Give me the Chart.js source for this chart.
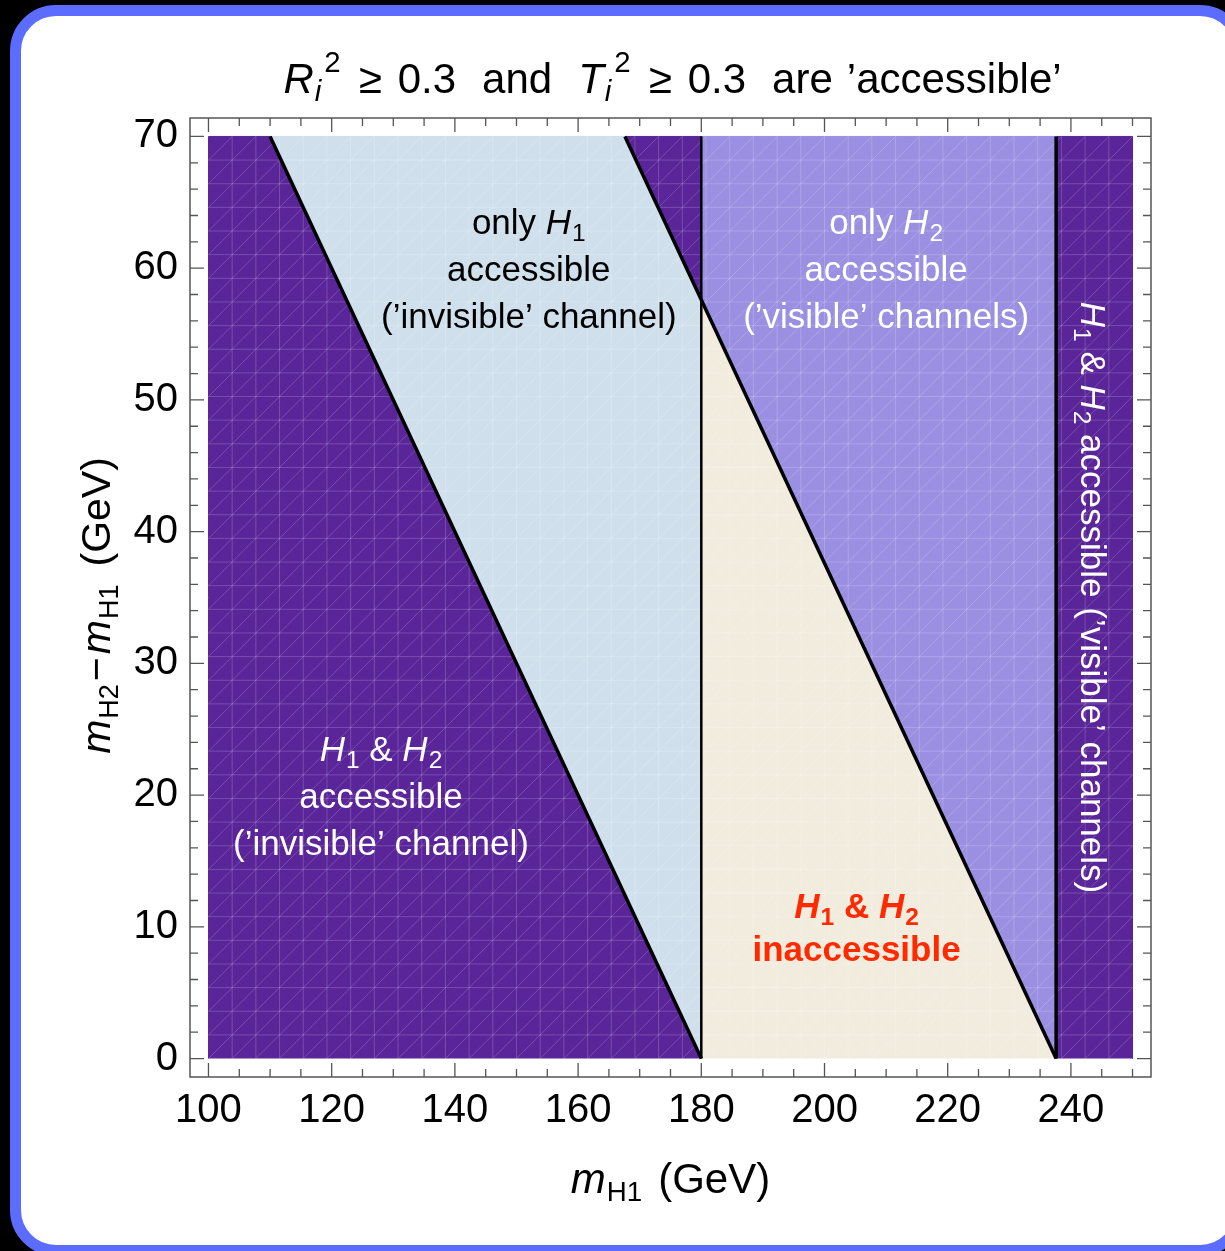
<!DOCTYPE html>
<html>
<head>
<meta charset="utf-8">
<script src="https://cdn.jsdelivr.net/npm/chart.js@4.4.1/dist/chart.umd.min.js"></script>
<style>
  html, body { margin: 0; padding: 0; background: #000; width: 1225px; height: 1251px; overflow: hidden; }
  #card { position: absolute; left: 10px; top: 5px; width: 1236px; height: 1251px; box-sizing: border-box;
          border: 11px solid #5b6cff; border-radius: 46px; background: #fff; }
  #wrap { position: absolute; left: 0; top: 0; width: 1225px; height: 1251px; }
</style>
</head>
<body>
<div id="card"></div>
<div id="wrap"><canvas id="c" width="1225" height="1251"></canvas></div>
<script>
// Axis ticks
const xTicks = [100, 120, 140, 160, 180, 200, 220, 240];
const yTicks = [0, 10, 20, 30, 40, 50, 60, 70];

// Regions in the (m_H1, m_H2 - m_H1) plane, as polygon vertices in GeV
const bothInvisibleRegion = [[100, 0], [100, 70], [110, 70], [180, 0]];
const onlyH1Region        = [[110, 70], [167.6, 70], [180, 57.6], [180, 0]];
const cornerRegion        = [[167.6, 70], [180, 70], [180, 57.6]];
const onlyH2Region        = [[180, 57.6], [180, 70], [237.6, 70], [237.6, 0]];
const inaccessibleRegion  = [[180, 0], [180, 57.6], [237.6, 0]];
const bothVisibleRegion   = [[237.6, 0], [237.6, 70], [250, 70], [250, 0]];

// Region boundaries
const edgeSumLow   = [[110, 70], [180, 0]];
const edgeSumHigh  = [[167.6, 70], [237.6, 0]];
const edgeMassLow  = [[180, 0], [180, 70]];
const edgeMassHigh = [[237.6, 0], [237.6, 70]];

const FONT = '"Liberation Sans", Arial, Helvetica, sans-serif';
const DARK = '#5a2599', BLUE = '#cfe0ec', LAVENDER = '#9b8fe2', BEIGE = '#f2ecde';

function toPoints(arr) { return arr.map(p => ({ x: p[0], y: p[1] })); }

function regionSet(arr, color) {
  return { data: toPoints(arr), showLine: true, fill: 'shape', backgroundColor: color,
           borderColor: color, borderWidth: 1, pointRadius: 0, tension: 0, order: 5 };
}
function edgeSet(arr, width) {
  return { data: toPoints(arr), showLine: true, fill: false, borderColor: '#000',
           borderWidth: width, pointRadius: 0, tension: 0, order: 1, boundary: true };
}

// Rich text: runs of [text, style, extraSpaceBefore]; style letters: i = italic, b = subscript, p = superscript
function runFont(style, size, bold, scr) {
  const it = style.includes('i') ? 'italic ' : '';
  const s = (style.includes('b') || style.includes('p')) ? size * scr : size;
  return `${it}${bold ? 'bold ' : ''}${s}px ${FONT}`;
}
function runsWidth(ctx, runs, size, bold, o) {
  let w = 0;
  for (const [t, s, g] of runs) { ctx.font = runFont(s, size, bold, o.scr); w += (g || 0) + ctx.measureText(t).width; }
  return w;
}
function drawRuns(ctx, runs, cx, baseY, size, bold, opt) {
  const o = Object.assign({ scr: 0.7, sub: 0.2, sup: 0.42 }, opt || {});
  let px = cx - runsWidth(ctx, runs, size, bold, o) / 2;
  for (const [t, s, g] of runs) {
    ctx.font = runFont(s, size, bold, o.scr);
    px += g || 0;
    const off = s.includes('b') ? size * o.sub : (s.includes('p') ? -size * o.sup : 0);
    ctx.fillText(t, px, baseY + off);
    px += ctx.measureText(t).width;
  }
}
function drawBlock(ctx, px, py, lines, opt) {
  ctx.save();
  ctx.translate(px, py);
  ctx.rotate(opt.rotate || 0);
  ctx.fillStyle = opt.color;
  ctx.textAlign = 'left';
  ctx.textBaseline = 'alphabetic';
  const n = lines.length;
  lines.forEach((line, k) => {
    const base = (k - (n - 1) / 2) * opt.gap + opt.size * 0.36;
    drawRuns(ctx, line, 0, base, opt.size, opt.bold);
  });
  ctx.restore();
}

const H1 = [['H', 'i'], ['1', 'b', 1]];
const H2 = [['H', 'i'], ['2', 'b', 1]];
const annotations = [
  { at: [152, 60], color: '#000', lines: [[['only ', ''], ...H1], [['accessible', '']], [['(\u2019invisible\u2019 channel)', '']]] },
  { at: [210, 60], color: '#fff', lines: [[['only ', ''], ...H2], [['accessible', '']], [['(\u2019visible\u2019 channels)', '']]] },
  { at: [128, 20], color: '#fff', lines: [[...H1, [' & ', ''], ...H2], [['accessible', '']], [['(\u2019invisible\u2019 channel)', '']]] },
  { at: [205.2, 10], color: '#ff2a00', bold: true, gap: 43, lines: [[...H1, [' & ', ''], ...H2], [['inaccessible', '']]] },
  { at: [243.7, 35], color: '#fff', rotate: Math.PI / 2,
    lines: [[...H1, [' & ', ''], ...H2, [' accessible (\u2019visible\u2019 channels)', '']]] }
];

function drawMesh(chart) {
  const { ctx, scales: { x, y } } = chart;
  const n = 39, dx = 150 / n, dy = 70 / n;
  ctx.save();
  ctx.strokeStyle = 'rgba(255,255,255,0.18)';
  ctx.lineWidth = 1;
  ctx.beginPath();
  for (let i = 1; i < n; i++) {
    const px = x.getPixelForValue(100 + i * dx);
    ctx.moveTo(px, y.getPixelForValue(0)); ctx.lineTo(px, y.getPixelForValue(70));
    const py = y.getPixelForValue(i * dy);
    ctx.moveTo(x.getPixelForValue(100), py); ctx.lineTo(x.getPixelForValue(250), py);
  }
  for (let i = 0; i < n; i++) {
    for (let j = 0; j < n; j++) {
      ctx.moveTo(x.getPixelForValue(100 + i * dx), y.getPixelForValue(j * dy));
      ctx.lineTo(x.getPixelForValue(100 + (i + 1) * dx), y.getPixelForValue((j + 1) * dy));
    }
  }
  ctx.stroke();
  ctx.restore();
}

function drawFrame(chart) {
  const { ctx, chartArea: a, scales: { x, y } } = chart;
  ctx.save();
  ctx.strokeStyle = '#555';
  ctx.lineWidth = 1.5;
  ctx.strokeRect(a.left, a.top, a.right - a.left, a.bottom - a.top);
  ctx.lineWidth = 1.3;
  ctx.beginPath();
  for (let v = 100; v <= 250; v += 5) {
    const len = v % 20 === 0 ? 14 : 8;
    const px = x.getPixelForValue(v);
    ctx.moveTo(px, a.bottom); ctx.lineTo(px, a.bottom - len);
    ctx.moveTo(px, a.top); ctx.lineTo(px, a.top + len);
  }
  for (let v = 0; v <= 70; v += 2) {
    const len = v % 10 === 0 ? 14 : 8;
    const py = y.getPixelForValue(v);
    ctx.moveTo(a.left, py); ctx.lineTo(a.left + len, py);
    ctx.moveTo(a.right, py); ctx.lineTo(a.right - len, py);
  }
  ctx.stroke();
  ctx.restore();
}

const decor = {
  id: 'decor',
  beforeDatasetsDraw(chart) { chart.$meshDone = false; },
  beforeDatasetDraw(chart, args) {
    const d = chart.data.datasets[args.index];
    if (d.boundary && !chart.$meshDone) { drawMesh(chart); chart.$meshDone = true; }
  },
  afterDraw(chart) {
    const { ctx, chartArea: a, scales: { x, y } } = chart;
    drawFrame(chart);
    for (const an of annotations) {
      drawBlock(ctx, x.getPixelForValue(an.at[0]), y.getPixelForValue(an.at[1]), an.lines,
        { color: an.color, size: 35, gap: an.gap || 47, bold: !!an.bold, rotate: an.rotate || 0 });
    }
    const cx = (a.left + a.right) / 2;
    ctx.save();
    ctx.fillStyle = '#000';
    ctx.textBaseline = 'alphabetic';
    drawRuns(ctx, [['R', 'i'], ['i', 'ib', 1], ['2', 'p', 3], ['\u2265', '', 18], ['0.3', '', 16],
                   ['and', '', 26], ['T', 'i', 26], ['i', 'ib', 1], ['2', 'p', 3], ['\u2265', '', 18], ['0.3', '', 16],
                   ['are', '', 26], ['\u2019accessible\u2019', '', 14]], cx + 2, 93, 42, false,
             { scr: 0.7, sub: 0.2, sup: 0.5 });
    drawRuns(ctx, [['m', 'i'], ['H1', 'b', 1], ['(GeV)', '', 16]], cx, 1193, 42, false,
             { scr: 0.66, sub: 0.2 });
    ctx.translate(96, (a.top + a.bottom) / 2 + 8);
    ctx.rotate(-Math.PI / 2);
    drawRuns(ctx, [['m', 'i'], ['H2', 'b', 1], ['\u2212', '', 3], ['m', 'i', 3], ['H1', 'b', 1], ['(GeV)', '', 18]],
             0, 14, 41, false, { scr: 0.66, sub: 0.2 });
    ctx.restore();
  }
};

new Chart(document.getElementById('c'), {
  type: 'scatter',
  data: {
    datasets: [
      edgeSet(edgeSumLow, 3.5), edgeSet(edgeSumHigh, 3.5), edgeSet(edgeMassLow, 2.5), edgeSet(edgeMassHigh, 3.5),
      regionSet(bothInvisibleRegion, DARK), regionSet(onlyH1Region, BLUE), regionSet(cornerRegion, DARK),
      regionSet(onlyH2Region, LAVENDER), regionSet(inaccessibleRegion, BEIGE), regionSet(bothVisibleRegion, DARK)
    ]
  },
  options: {
    responsive: false,
    animation: false,
    events: [],
    layout: { padding: { top: 118, right: 74, bottom: 74, left: 0 } },
    plugins: { legend: { display: false }, tooltip: { enabled: false }, title: { display: false } },
    scales: {
      x: {
        type: 'linear', position: 'bottom', min: 97, max: 253,
        afterBuildTicks: s => { s.ticks = xTicks.map(v => ({ value: v })); },
        afterFit: s => { s.height = 100; },
        grid: { display: false, drawTicks: false, tickLength: 0 },
        border: { display: false },
        ticks: { font: { family: FONT, size: 40 }, color: '#000', padding: 10, maxRotation: 0, autoSkip: false }
      },
      y: {
        type: 'linear', position: 'left', min: -1.4, max: 71.4,
        afterBuildTicks: s => { s.ticks = yTicks.map(v => ({ value: v })); },
        afterFit: s => { s.width = 190; },
        grid: { display: false, drawTicks: false, tickLength: 0 },
        border: { display: false },
        ticks: { font: { family: FONT, size: 40 }, color: '#000', padding: 12, autoSkip: false }
      }
    }
  },
  plugins: [decor]
});
</script>
</body>
</html>
